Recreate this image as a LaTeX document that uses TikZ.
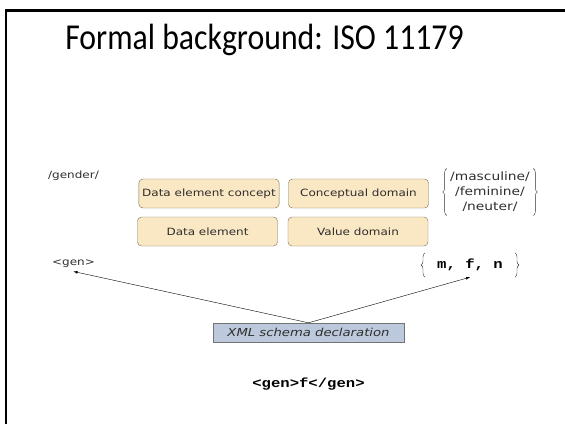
\documentclass[tikz,border=0pt]{standalone}
\usepackage{fontspec}
\setmainfont{DejaVu Sans}
\newfontfamily\titlefont[FakeStretch=0.87]{Carlito}
\newfontfamily\diagfont[FakeStretch=1.2]{DejaVu Sans}
\newfontfamily\codefont[FakeStretch=1.2]{Liberation Mono}
\usepackage{tikz}
\usetikzlibrary{decorations.pathreplacing,shadows}

\definecolor{boxtan}{HTML}{FAE8C4}
\definecolor{boxedge}{HTML}{7D6F55}
\definecolor{xmlblue}{HTML}{BCC9DC}
\definecolor{inkgray}{HTML}{2E2E2E}

\tikzset{
  plain/.style={font=\diagfont\fontsize{10}{12}\selectfont,text=inkgray},
  code/.style={font=\codefont\bfseries\fontsize{13}{15}\selectfont},
  setbrace/.style={draw=inkgray,thin,decorate,decoration={brace,amplitude=4pt}}
}

\begin{document}
\begin{tikzpicture}[x=1pt,y=-1pt]
        \useasboundingbox (0,0) rectangle (565,424);
        \draw[line width=2.4pt] (6.2,424) -- (6.2,10.5) -- (565,10.5);

        \node[anchor=base] (title) at (264.5,49) {\titlefont\fontsize{36.5}{40}\selectfont Formal background: ISO 11179};

        \begin{scope}[every node/.style={plain,draw=boxedge,fill=boxtan,rounded corners=4pt,minimum width=140pt,minimum height=29pt}]
            \node (dec) at (209,193.5) {Data element concept};
            \node (cd) at (358.5,193.5) {Conceptual domain};
            \node (de) at (207.5,231.5) {Data element};
            \node (vd) at (358,231.5) {Value domain};
        \end{scope}

        \node[plain,anchor=base west,inner sep=0pt] (gender) at (48,178) {/gender/};
        \node[plain] (gen) at (73.5,264) {<gen>};

        \node[plain,font=\diagfont\fontsize{11.5}{15}\selectfont,align=center] (values) at (490,192) {/masculine/\\/feminine/\\/neuter/};
        \draw[setbrace] (values.south west) -- (values.north west);
        \draw[setbrace] (values.north east) -- (values.south east);

        \node[code,inner xsep=12pt,minimum height=24pt] (mfn) at (470,265) {m, f, n};
        \draw[setbrace] (mfn.south west) -- (mfn.north west);
        \draw[setbrace] (mfn.north east) -- (mfn.south east);

        \node[plain,font=\diagfont\itshape\fontsize{11}{13}\selectfont,draw=black!55,fill=xmlblue,minimum width=191pt,minimum height=19pt,inner sep=0pt,
              drop shadow={shadow xshift=1pt,shadow yshift=-1pt,fill=black!60,opacity=1}] (xml) at (308.5,332.5) {XML schema declaration};

        \node[code] (gencode) at (308.5,384) {<gen>f</gen>};

        \begin{scope}[every edge/.style={draw,thin,-latex}]
            \path (xml.north) edge (gen.south);
            \path (xml.north) edge (mfn.south);
        \end{scope}
    \end{tikzpicture}
\end{document}
